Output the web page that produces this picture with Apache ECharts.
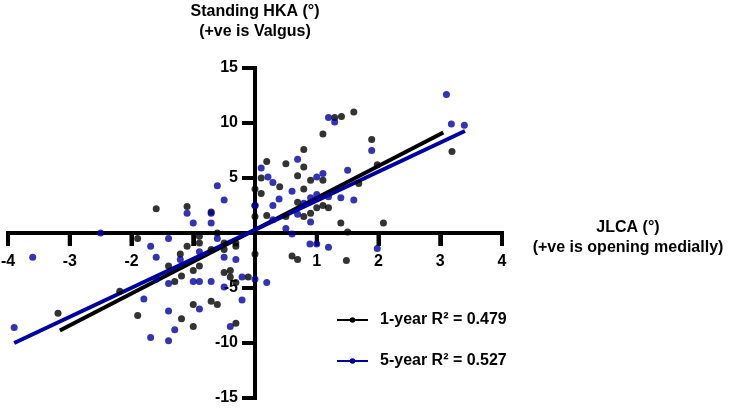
<!DOCTYPE html>
<html>
<head>
<meta charset="utf-8">
<script src="https://cdn.jsdelivr.net/npm/echarts@6/dist/echarts.min.js"></script>
<style>html,body{margin:0;padding:0;background:#fff}#c{width:732px;height:408px}</style>
</head>
<body>
<div id="c"></div>
<script>
// ---- data ----
const xTicks = [-4, -3, -2, -1, 0, 1, 2, 3, 4];
const xTickLabels = ['-4', '-3', '-2', '', '', '1', '2', '3', '4'];
const yTicks = [-15, -10, -5, 0, 5, 10, 15];
const yTickLabels = ['-15', '-10', '-5', '', '5', '10', '15'];
const seriesNames = ['1-year R\u00b2 = 0.479', '5-year R\u00b2 = 0.527'];

const oneYearX = [-3.19,-2.19,-1.9,-1.9,-1.6,-1.4,-1.3,-1.21,-1.19,-1.19,-1.1,-1.1,-1.0,-1.0,-1.0,-0.9,-0.9,-0.9,-0.71,-0.71,-0.71,-0.61,-0.61,-0.5,-0.5,-0.5,-0.4,-0.4,-0.31,-0.31,-0.31,-0.31,-0.11,0,0,0,0,
  0.1,0.1,0.19,0.19,0.4,0.5,0.5,0.6,0.69,0.69,0.69,0.79,0.79,0.79,0.79,0.9,0.9,1.0,1.1,1.1,1.1,1.19,1.29,1.39,1.4,1.48,1.5,1.6,1.68,1.89,1.98,2.08,3.19];
const oneYearY = [-7.3,-5.3,-0.5,-7.5,2.2,-3.0,-4.4,-1.9,-3.9,-7.8,2.4,-1.2,-3.4,-6.5,-8.5,-0.3,-0.9,-3.0,1.9,-1.5,-6.2,0,-6.5,-0.9,-1.5,-3.6,-3.4,-4.0,-0.9,-1.2,-4.5,-8.2,-4.0,-1.9,4.0,1.5,2.5,
  5.0,3.6,6.5,1.6,4.2,6.3,1.5,-2.1,5.2,2.8,-2.4,7.6,6.0,4.0,1.5,4.8,1.8,2.3,9.0,4.8,2.5,2.3,10.5,0.9,10.6,-2.5,0.1,11.0,4.5,8.5,6.2,0.9,7.4];

const fiveYearX = [-3.9,-3.6,-2.5,-1.8,-1.69,-1.69,-1.6,-1.6,-1.4,-1.4,-1.4,-1.4,-1.3,-1.21,-1.1,-1.0,-1.0,-0.9,-0.9,-0.9,-0.71,-0.71,-0.71,-0.61,-0.61,-0.5,-0.5,-0.5,-0.4,-0.31,-0.21,-0.21,0,0,0.19,
  0.1,0.21,0.29,0.29,0.29,0.39,0.5,0.6,0.6,0.69,0.69,0.79,0.89,0.9,0.9,1.0,1.0,1.0,1.1,1.19,1.19,1.19,1.29,1.39,1.5,1.6,1.89,1.98,3.1,3.18,3.39];
const fiveYearY = [-8.6,-2.2,0,-6.0,-1.2,-9.5,-2.2,-4.2,-0.5,-4.6,-7.1,-9.8,-8.8,-2.4,1.8,0.9,-4.4,-1.7,-4.4,-6.9,1.8,0.9,-4.4,4.3,-0.5,3.0,-2.2,-4.9,-8.5,-2.4,-4.0,-6.1,-4.2,2.5,-4.5,
  5.9,5.1,4.6,2.5,1.2,3.1,0.4,3.8,-0.1,6.7,1.7,2.7,-1.0,3.2,1.0,5.1,3.5,-1.0,5.4,10.5,3.3,-1.3,10.1,3.2,5.7,3.0,7.5,-1.4,12.6,9.9,9.8];

// regression fits (slope, intercept) and the x span drawn for each
const fitSlope = [2.9, 2.64];
const fitIntercept = [0.3, 0.3];
const fitXRange = [[-3.16, 3.05], [-3.9, 3.4]];

// ---- chart ----
const FONT = '"Liberation Sans", Arial, sans-serif';
const BLUE = '#0000a0';
const colors = ['#000000', BLUE];
const pts = (xs, ys) => xs.map((x, i) => [x, ys[i]]);
const fitLine = k => fitXRange[k].map(x => [x, fitSlope[k] * x + fitIntercept[k]]);
const TICK_LEN = 13, TICK_W = 4;

// draws one tick mark and its label at the position the axes give for the value
function tickRenderer(dir, labels) {
  return function (params, api) {
    const p = api.coord([api.value(0), api.value(1)]);
    const text = labels[params.dataIndex];
    if (dir === 'x') {
      return {type: 'group', children: [
        {type: 'line', shape: {x1: p[0], y1: p[1], x2: p[0], y2: p[1] + TICK_LEN}, style: {stroke: '#000', lineWidth: TICK_W}},
        {type: 'text', x: p[0], y: p[1] + 29, style: {text: text, font: 'bold 16px ' + FONT, fill: '#000', align: 'center', verticalAlign: 'middle'}}
      ]};
    }
    return {type: 'group', children: [
      {type: 'line', shape: {x1: p[0] - TICK_LEN, y1: p[1], x2: p[0], y2: p[1]}, style: {stroke: '#000', lineWidth: TICK_W}},
      {type: 'text', x: p[0] - TICK_LEN - 4, y: p[1], style: {text: text, font: 'bold 16px ' + FONT, fill: '#000', align: 'right', verticalAlign: 'middle'}}
    ]};
  };
}

const chart = echarts.init(document.getElementById('c'), null, {renderer: 'canvas'});
const axisCommon = {
  axisLine: {onZero: true, lineStyle: {color: '#000', width: 4, cap: 'square'}},
  axisTick: {show: true, length: TICK_LEN, lineStyle: {color: '#000', width: TICK_W}},
  axisLabel: {show: false},
  splitLine: {show: false},
};
chart.setOption({
  animation: false,
  backgroundColor: '#fff',
  grid: {left: 8, right: 230, top: 68, bottom: 10, containLabel: false},
  xAxis: Object.assign({type: 'value', min: xTicks[0], max: xTicks[xTicks.length - 1], interval: 1}, axisCommon),
  yAxis: Object.assign({type: 'value', min: yTicks[0], max: yTicks[yTicks.length - 1], interval: 5}, axisCommon),
  legend: {
    left: 331, top: 307, orient: 'vertical', itemGap: 25, itemWidth: 31, itemHeight: 7,
    data: seriesNames,
    textStyle: {color: '#000', fontFamily: FONT, fontWeight: 'bold', fontSize: 16, padding: [0, 0, 0, 7]},
    selectedMode: false
  },
  graphic: [
    {type: 'text', style: {text: 'Standing HKA (\u00b0)\n(+ve is Valgus)', font: 'bold 16px ' + FONT, fill: '#000', align: 'center', lineHeight: 20}, position: [255, 2]},
    {type: 'text', style: {text: 'JLCA (\u00b0)\n(+ve is opening medially)', font: 'bold 16px ' + FONT, fill: '#000', align: 'center', lineHeight: 20}, position: [628, 218]}
  ],
  series: [
    {type: 'custom', name: 'x ticks', data: xTicks.map(t => [t, 0]), renderItem: tickRenderer('x', xTickLabels),
      silent: true, clip: false, z: 1},
    {type: 'custom', name: 'y ticks', data: yTicks.map(t => [0, t]), renderItem: tickRenderer('y', yTickLabels),
      silent: true, clip: false, z: 1},
    {type: 'line', name: seriesNames[0], data: fitLine(0), showSymbol: false, symbol: 'circle', symbolSize: 5,
      color: colors[0], lineStyle: {color: colors[0], width: 4}, z: 3},
    {type: 'line', name: seriesNames[1], data: fitLine(1), showSymbol: false, symbol: 'circle', symbolSize: 5,
      color: colors[1], lineStyle: {color: colors[1], width: 4}, z: 3},
    {type: 'scatter', name: '1-year points', data: pts(oneYearX, oneYearY), symbolSize: 7,
      itemStyle: {color: colors[0]}, z: 4},
    {type: 'scatter', name: '5-year points', data: pts(fiveYearX, fiveYearY), symbolSize: 7,
      itemStyle: {color: colors[1]}, z: 4}
  ]
});
</script>
</body>
</html>
